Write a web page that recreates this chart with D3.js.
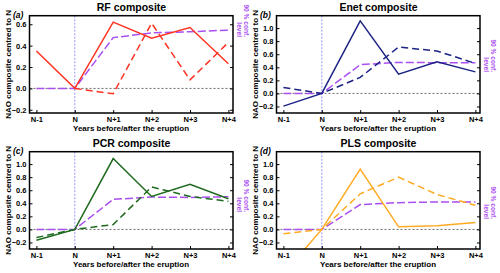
<!DOCTYPE html>
<html>
<head>
<meta charset="utf-8">
<script src="https://cdn.jsdelivr.net/npm/d3@7"></script>
<style>
  body { margin: 0; background: #fff; }
  svg text { font-family: "Liberation Sans", Arial, sans-serif; font-weight: bold; }
</style>
</head>
<body>
<script>
var years = ['N-1', 'N', 'N+1', 'N+2', 'N+3', 'N+4'];

var rfSolid   = [0.35, 0.0, 0.62, 0.47, 0.57, 0.23];
var rfDashed  = [null, 0.0, -0.05, 0.61, 0.08, 0.43];
var rfConf    = [0.0, 0.0, 0.475, 0.52, 0.53, 0.545];

var enetSolid  = [-0.195, 0.0, 1.11, 0.295, 0.485, 0.33];
var enetDashed = [0.09, 0.0, 0.245, 0.71, 0.65, 0.46];
var enetConf   = [0.0, 0.0, 0.44, 0.475, 0.47, 0.47];

var pcrSolid  = [-0.165, 0.0, 1.085, 0.505, 0.69, 0.47];
var pcrDashed = [-0.125, 0.0, 0.075, 0.65, 0.505, 0.43];
var pcrConf   = [0.0, 0.0, 0.46, 0.495, 0.49, 0.5];

var plsSolid  = [-0.68, 0.0, 0.925, 0.04, 0.055, 0.105];
var plsDashed = [-0.065, 0.0, 0.545, 0.8, 0.535, 0.37];
var plsConf   = [0.0, 0.0, 0.38, 0.41, 0.42, 0.42];

var smallTicks = [-0.2, 0.0, 0.2, 0.4, 0.6];
var bigTicks   = [-0.2, 0.0, 0.2, 0.4, 0.6, 0.8, 1.0];

var panels = [
  {title: 'RF composite', tag: '(a)', color: '#ff3322', solid: rfSolid, dashed: rfDashed, conf: rfConf,
   ydom: [-0.23, 0.68], ticks: smallTicks, ox: 0, oy: 0, labelEnd: 37},
  {title: 'Enet composite', tag: '(b)', color: '#1c2385', solid: enetSolid, dashed: enetDashed, conf: enetConf,
   ydom: [-0.3, 1.19], ticks: bigTicks, ox: 247, oy: 0, labelEnd: 72},
  {title: 'PCR composite', tag: '(c)', color: '#1e6a1e', solid: pcrSolid, dashed: pcrDashed, conf: pcrConf,
   ydom: [-0.3, 1.19], ticks: bigTicks, ox: 0, oy: 136, labelEnd: 76},
  {title: 'PLS composite', tag: '(d)', color: '#ffaa22', solid: plsSolid, dashed: plsDashed, conf: plsConf,
   ydom: [-0.3, 1.19], ticks: bigTicks, ox: 247, oy: 136, labelEnd: 83}
];

var purple = '#aa4ff0';
var boxL = 29.5, boxR = 233, boxT = 15.7, boxB = 113;

var svg = d3.select('body').append('svg')
  .attr('width', 500).attr('height', 273);

panels.forEach(function(p, i) {
  var g = svg.append('g').attr('transform', 'translate(' + p.ox + ',' + p.oy + ')');

  var x = d3.scaleLinear().domain([-0.18, 5.12]).range([boxL, boxR]);
  var y = d3.scaleLinear().domain(p.ydom).range([boxB, boxT]);

  g.append('clipPath').attr('id', 'clip' + i)
    .append('rect').attr('x', boxL).attr('y', boxT)
    .attr('width', boxR - boxL).attr('height', boxB - boxT);

  var plot = g.append('g').attr('clip-path', 'url(#clip' + i + ')');

  // zero line and eruption year
  plot.append('line')
    .attr('x1', boxL).attr('x2', boxR).attr('y1', y(0)).attr('y2', y(0))
    .attr('stroke', '#444').attr('stroke-width', 0.8).attr('stroke-dasharray', '2,2');
  plot.append('line')
    .attr('x1', x(1)).attr('x2', x(1)).attr('y1', boxT).attr('y2', boxB)
    .attr('stroke', '#7a7aff').attr('stroke-width', 0.8).attr('stroke-dasharray', '2,1.5');

  var line = d3.line()
    .defined(function(d) { return d != null; })
    .x(function(d, j) { return x(j); })
    .y(function(d) { return y(d); });

  plot.append('path').datum(p.conf).attr('d', line)
    .attr('fill', 'none').attr('stroke', purple).attr('stroke-width', 1.5)
    .attr('stroke-dasharray', '8,3');
  plot.append('path').datum(p.dashed).attr('d', line)
    .attr('fill', 'none').attr('stroke', p.color).attr('stroke-width', 1.5)
    .attr('stroke-dasharray', '7,4');
  plot.append('path').datum(p.solid).attr('d', line)
    .attr('fill', 'none').attr('stroke', p.color).attr('stroke-width', 1.5);

  // axes
  var yAxis = d3.axisLeft(y).tickValues(p.ticks).tickSize(-3).tickPadding(3)
    .tickFormat(d3.format('.1f'));
  var ya = g.append('g').attr('transform', 'translate(' + boxL + ',0)').call(yAxis);
  ya.select('.domain').remove();
  ya.selectAll('text').style('font-size', '7.5px');

  var yAxisR = d3.axisRight(y).tickValues(p.ticks).tickSize(-3).tickFormat('');
  var yr = g.append('g').attr('transform', 'translate(' + boxR + ',0)').call(yAxisR);
  yr.select('.domain').remove();

  var xAxis = d3.axisBottom(x).tickValues(d3.range(years.length)).tickSize(-3).tickPadding(4)
    .tickFormat(function(d) { return years[d]; });
  var xa = g.append('g').attr('transform', 'translate(0,' + boxB + ')').call(xAxis);
  xa.select('.domain').remove();
  xa.selectAll('text').style('font-size', '7.5px');

  g.selectAll('.tick line').attr('stroke', '#000').attr('stroke-width', 1);

  g.append('rect')
    .attr('x', boxL).attr('y', boxT).attr('width', boxR - boxL).attr('height', boxB - boxT)
    .attr('fill', 'none').attr('stroke', '#000').attr('stroke-width', 1.5);

  // texts
  g.append('text').attr('x', 131.5).attr('y', 11.2).attr('text-anchor', 'middle')
    .style('font-size', '10.5px').text(p.title);

  g.append('text').attr('x', 13).attr('y', 18).style('font-size', '8.5px')
    .style('font-style', 'italic').text(p.tag);

  g.append('text').attr('x', 131).attr('y', 130.5).attr('text-anchor', 'middle')
    .style('font-size', '8px').text('Years before/after the eruption');

  g.append('text').attr('transform', 'translate(10.5,' + ((boxT + boxB) / 2) + ') rotate(-90)')
    .attr('text-anchor', 'middle').style('font-size', '8px').text('NAO composite centred to N');

  var conf = g.append('text')
    .attr('transform', 'translate(243.5,' + p.labelEnd + ') rotate(90)')
    .attr('text-anchor', 'end').attr('fill', purple).style('font-size', '6.6px');
  conf.append('tspan').attr('x', 0).attr('y', 0).text('90 % conf.');
  conf.append('tspan').attr('x', 0).attr('y', 7).text('level');
});
</script>
</body>
</html>
